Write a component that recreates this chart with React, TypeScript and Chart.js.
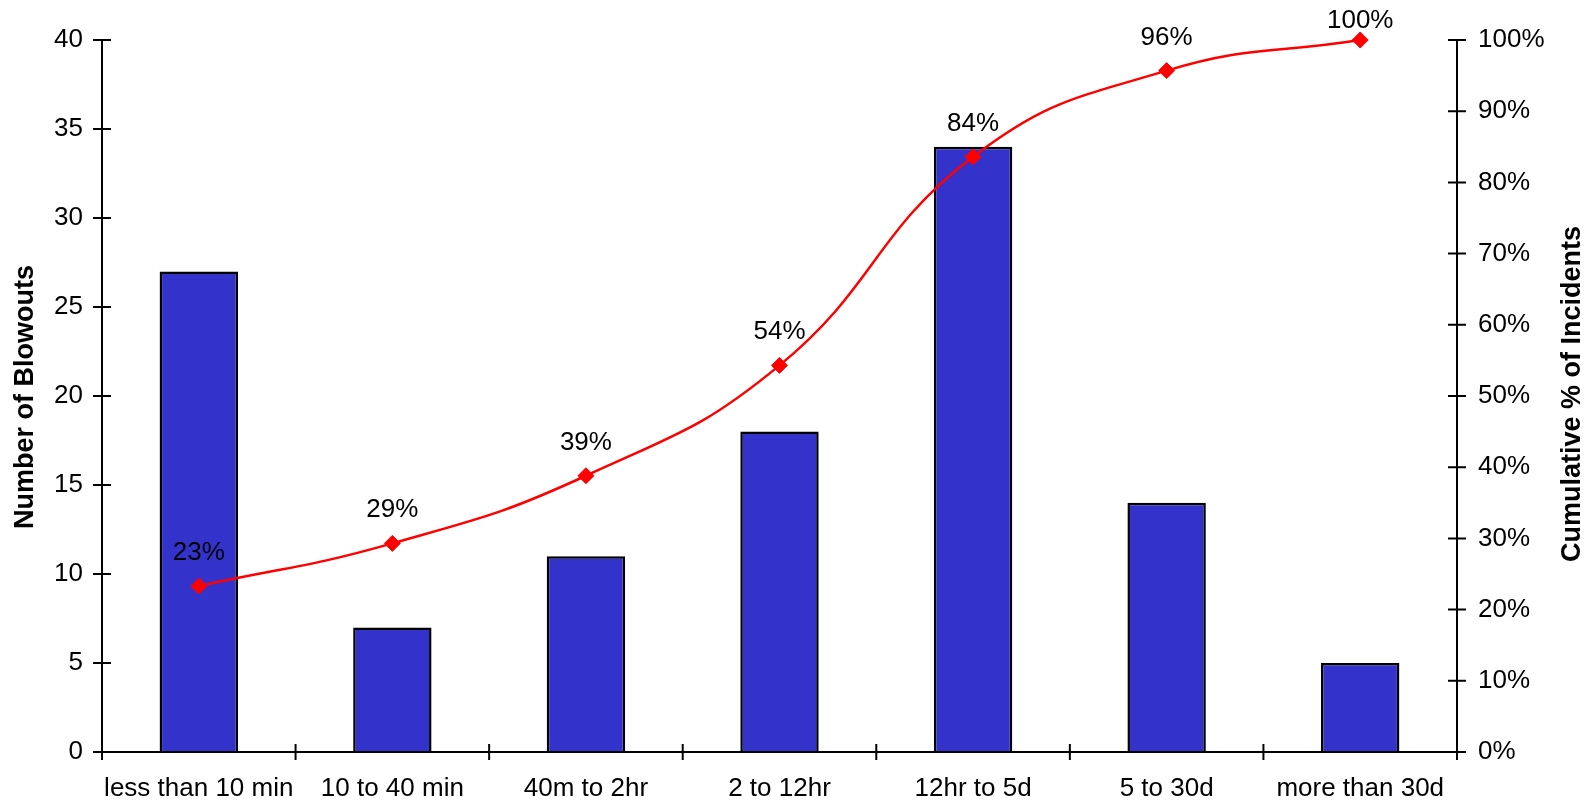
import React, { useEffect, useRef } from "react";
import { Chart, registerables } from "chart.js";

Chart.register(...registerables);

const categories = [
  "less than 10 min",
  "10 to 40 min",
  "40m to 2hr",
  "2 to 12hr",
  "12hr to 5d",
  "5 to 30d",
  "more than 30d",
];
const blowouts = [27, 7, 11, 18, 34, 14, 5];
const cumulativePct = [23.3, 29.3, 38.8, 54.3, 83.6, 95.7, 100];
const leftAxisTitle = "Number of Blowouts";
const rightAxisTitle = "Cumulative % of Incidents";

const FONT = "'Liberation Sans', Arial, sans-serif";

const decorations = {
  id: "decorations",
  afterDatasetsDraw(chart: any) {
    const ctx = chart.ctx;
    const { left, right, top, bottom } = chart.chartArea;
    ctx.save();
    ctx.strokeStyle = "#000";
    ctx.lineWidth = 2;
    ctx.beginPath();
    ctx.moveTo(left, top);
    ctx.lineTo(left, bottom);
    ctx.moveTo(right, top);
    ctx.lineTo(right, bottom);
    ctx.moveTo(left - 1, bottom);
    ctx.lineTo(right + 1, bottom);
    const yL = chart.scales.y;
    yL.ticks.forEach((_t: any, i: number) => {
      const py = yL.getPixelForTick(i);
      ctx.moveTo(left - 9, py);
      ctx.lineTo(left + 9, py);
    });
    const yR = chart.scales.y1;
    yR.ticks.forEach((_t: any, i: number) => {
      const py = yR.getPixelForTick(i);
      ctx.moveTo(right - 9, py);
      ctx.lineTo(right + 9, py);
    });
    const xs = chart.scales.x;
    const n = categories.length;
    for (let i = 0; i <= n; i++) {
      const px = i < n ? xs.getPixelForValue(i) - (right - left) / n / 2 : right;
      ctx.moveTo(px, bottom - 8);
      ctx.lineTo(px, bottom + 8);
    }
    ctx.stroke();

    // percentage labels
    const meta = chart.getDatasetMeta(1);
    ctx.fillStyle = "#000";
    ctx.font = `26px ${FONT}`;
    ctx.textAlign = "center";
    ctx.textBaseline = "alphabetic";
    meta.data.forEach((pt: any, i: number) => {
      const base = Math.max(28, pt.y - 26);
      ctx.fillText(Math.round(cumulativePct[i]) + "%", pt.x, base);
    });

    // axis titles
    ctx.font = `bold 27px ${FONT}`;
    ctx.save();
    ctx.translate(33, (top + bottom) / 2 + 1);
    ctx.rotate(-Math.PI / 2);
    ctx.fillText(leftAxisTitle, 0, 0);
    ctx.restore();
    ctx.save();
    ctx.translate(1580, (top + bottom) / 2 - 2);
    ctx.rotate(-Math.PI / 2);
    ctx.fillText(rightAxisTitle, 0, 0);
    ctx.restore();
    ctx.restore();
  },
};

export default function App() {
  const ref = useRef<HTMLCanvasElement>(null);
  useEffect(() => {
    if (!ref.current) return;
    const tickFont = { family: FONT, size: 26 };
    const chart = new Chart(ref.current, {
      type: "bar",
      data: {
        labels: categories,
        datasets: [
          {
            type: "bar",
            label: "Blowouts",
            data: blowouts,
            backgroundColor: "#3333CC",
            borderColor: "#000000",
            borderWidth: 2.5,
            barPercentage: 0.405,
            categoryPercentage: 1,
            yAxisID: "y",
            order: 1,
          } as any,
          {
            type: "line",
            label: "Cumulative",
            data: cumulativePct,
            borderColor: "#FF0000",
            backgroundColor: "#FF0000",
            borderWidth: 2.5,
            tension: 0.45,
            pointStyle: "rectRot",
            pointRadius: 8,
            pointBorderWidth: 1,
            pointBackgroundColor: "#FF0000",
            pointBorderColor: "#FF0000",
            yAxisID: "y1",
            clip: false,
            order: 0,
          } as any,
        ],
      },
      options: {
        animation: false,
        responsive: false,
        maintainAspectRatio: false,
        layout: { padding: { top: 40, left: 0, right: 0, bottom: 0 } },
        plugins: {
          legend: { display: false },
          tooltip: { enabled: false },
          title: { display: false },
        },
        scales: {
          x: {
            type: "category",
            offset: true,
            grid: { display: false, drawTicks: false },
            border: { display: false },
            ticks: {
              font: tickFont,
              color: "#000",
              padding: 21,
              maxRotation: 0,
              autoSkip: false,
            },
            afterFit: (s: any) => {
              s.height = 53;
            },
          },
          y: {
            position: "left",
            min: 0,
            max: 40,
            grid: { display: false, drawTicks: false },
            border: { display: false },
            ticks: { stepSize: 5, font: tickFont, color: "#000", padding: 19 },
            afterFit: (s: any) => {
              s.width = 102;
            },
          },
          y1: {
            position: "right",
            min: 0,
            max: 100,
            grid: { display: false, drawTicks: false },
            border: { display: false },
            ticks: {
              stepSize: 10,
              font: tickFont,
              color: "#000",
              padding: 21,
              callback: (v: any) => v + "%",
            },
            afterFit: (s: any) => {
              s.width = 134;
            },
          },
        },
      } as any,
      plugins: [decorations],
    });
    return () => chart.destroy();
  }, []);
  return (
    <div style={{ position: "fixed", left: 0, top: 0, width: 1591, height: 805, background: "#fff" }}>
      <canvas ref={ref} width={1591} height={805} style={{ display: "block" }} />
    </div>
  );
}
